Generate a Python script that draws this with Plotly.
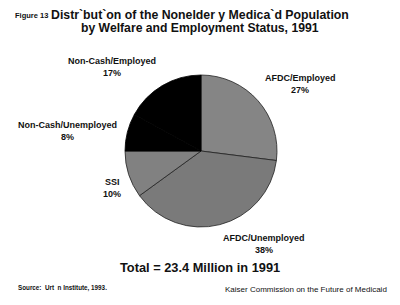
import plotly.graph_objects as go

labels = ["AFDC/Employed", "AFDC/Unemployed", "SSI", "Non-Cash/Unemployed", "Non-Cash/Employed"]
values = [27, 38, 10, 8, 17]
colors = ["#858585", "#7a7a7a", "#818181", "#000000", "#000000"]
line_colors = ["#222222", "#222222", "#222222", "#000000", "#000000"]

fig = go.Figure()
fig.add_trace(go.Pie(
    labels=labels, values=values, sort=False, direction="clockwise", rotation=0,
    marker=dict(colors=colors, line=dict(color=line_colors, width=0.8)),
    textinfo="none", hoverinfo="none", showlegend=False,
    domain=dict(x=[0.3125, 0.6925], y=[0.2557, 0.7541]),
))

FONT = "Liberation Sans, Arial, sans-serif"

def ann(x, y, text, size, anchor="center", color="#111111"):
    fig.add_annotation(x=x / 400, y=1 - y / 305, xref="paper", yref="paper",
                       text=text, showarrow=False, xanchor=anchor, yanchor="middle",
                       font=dict(family=FONT, size=size, color=color), align="center")

# title
ann(13, 15, "<b>Figure 13</b>", 7.5, anchor="left")
ann(200, 15, "<b>Distr`but`on of the Nonelder y Medica`d Population</b>", 12.3)
ann(200, 28, "<b>by Welfare and Employment Status, 1991</b>", 12.2)

# slice labels
label_pos = {
    "Non-Cash/Employed": (112, 61, 73),
    "Non-Cash/Unemployed": (67, 125, 137),
    "SSI": (112, 182, 194),
    "AFDC/Employed": (300, 78, 90),
    "AFDC/Unemployed": (264, 238, 250),
}
for lab, val in zip(labels, values):
    x, y1, y2 = label_pos[lab]
    ann(x, y1, "<b>%s</b>" % lab, 9)
    ann(x, y2, "<b>%d%%</b>" % val, 9)

ann(200, 267, "<b>Total = 23.4 Million in 1991</b>", 12.8)
ann(16, 288, "<b>Source:  Urt  n Institute, 1993.</b>", 6.3, anchor="left")
ann(389, 289, "Kaiser Commission on the Future of Medicaid", 8, anchor="right")

fig.update_layout(width=400, height=305, margin=dict(l=0, r=0, t=0, b=0),
                  paper_bgcolor="white", plot_bgcolor="white")
fig.write_html("out.html")
